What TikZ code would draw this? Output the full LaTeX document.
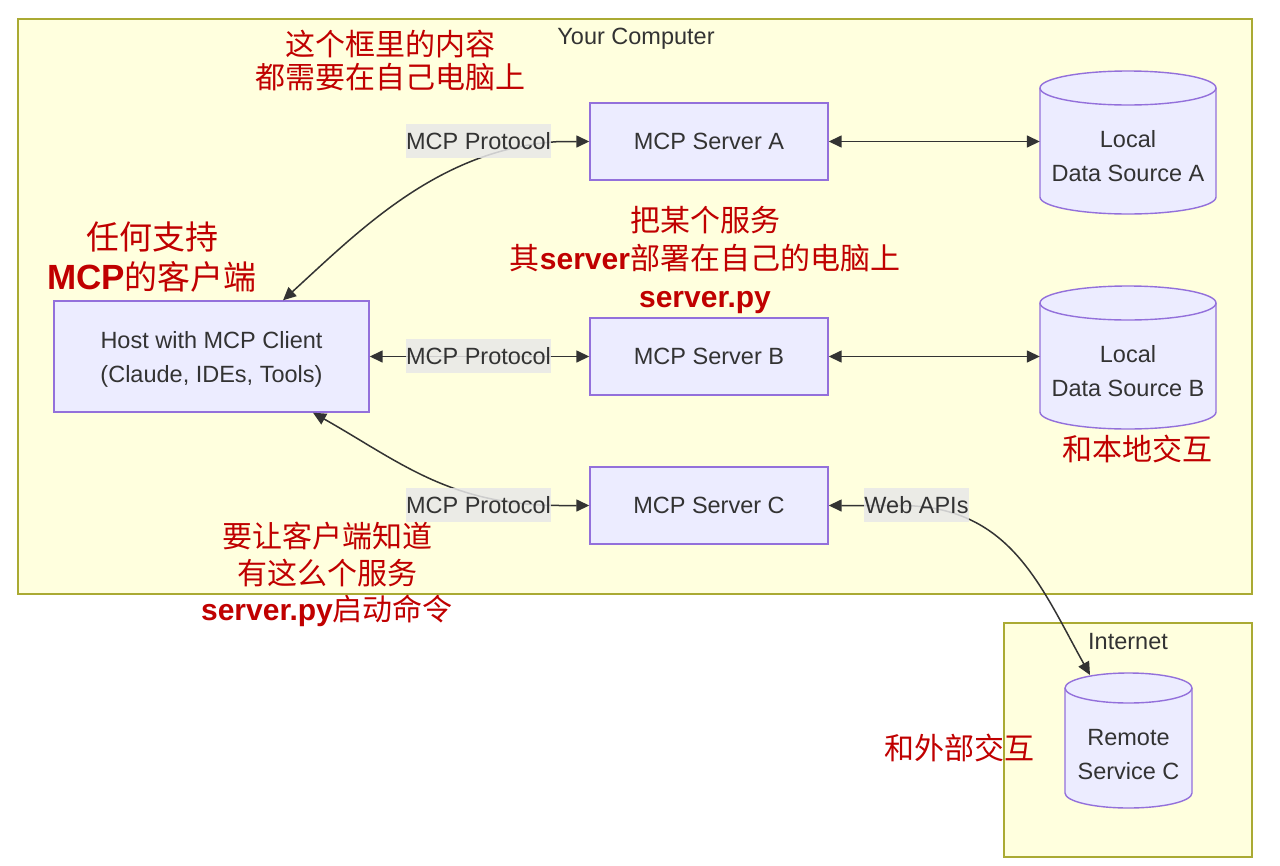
\documentclass[tikz,border=0pt]{standalone}
\usepackage{fontspec}
\setmainfont{Liberation Sans}
\newfontfamily\cjk{Noto Sans CJK SC}
\newfontfamily\latb{Liberation Sans}
\usetikzlibrary{arrows.meta}
\definecolor{clfill}{HTML}{FFFFDE}
\definecolor{clline}{HTML}{AAAA33}
\definecolor{ndfill}{HTML}{ECECFF}
\definecolor{ndline}{HTML}{9370DB}
\definecolor{txt}{HTML}{333333}
\definecolor{lblbg}{HTML}{E8E8E8}
\definecolor{anno}{HTML}{C00000}
\newcommand\drawcyl[5]{% cx, top centre y, bottom centre y, rx, ry
  \filldraw[fill=ndfill,draw=ndline,line width=1.4pt]
    (#1-#4,#2) -- (#1-#4,#3) arc[start angle=180,end angle=360,x radius=#4pt,y radius=#5pt]
    -- (#1+#4,#2) arc[start angle=0,end angle=180,x radius=#4pt,y radius=#5pt] -- cycle;
  \draw[draw=ndline,line width=1.4pt] (#1-#4,#2) arc[start angle=180,end angle=360,x radius=#4pt,y radius=#5pt];
}
\begin{document}
\begin{tikzpicture}[x=1pt,y=-1pt,
  every node/.style={text=txt},
  mainfont/.style={font=\fontsize{23.5}{34}\selectfont},
  box/.style={draw=ndline,fill=ndfill,line width=1.4pt,rectangle,mainfont,align=center},
  hole/.style={rectangle,inner sep=0pt},
  edge/.style={draw=txt,line width=1.5pt,{Triangle[length=13pt,width=12pt]}-{Triangle[length=13pt,width=12pt]}},
  lbl/.style={fill=lblbg,fill opacity=0.85,text opacity=1,inner xsep=0pt,minimum height=34pt,mainfont},
  cjkanno/.style={text=anno,align=center,font=\cjk\fontsize{30}{#1}\selectfont},
  cjkanno/.default=36]
\fill[white] (0,0) rectangle (1280,865);
\useasboundingbox (0,0) rectangle (1280,865);
% clusters
\draw[fill=clfill,draw=clline,line width=1.5pt] (18,19) rectangle (1252,594);
\node[mainfont] (ycl) at (636,39) {Your Computer};
\draw[fill=clfill,draw=clline,line width=1.5pt] (1004,623) rectangle (1252,857);
\node[mainfont] (icl) at (1128,641.5) {Internet};
% nodes
\node[box,minimum width=315pt,minimum height=111pt] (host) at (211.5,356.5) {};
\node[mainfont,align=center] (hostt) at (211.5,359.5) {Host with MCP Client\\(Claude, IDEs, Tools)};
\node[box,minimum width=238pt,minimum height=77pt] (srvA) at (709,141.5) {MCP Server A};
\node[box,minimum width=238pt,minimum height=77pt] (srvB) at (709,356.5) {MCP Server B};
\node[box,minimum width=238pt,minimum height=77pt] (srvC) at (709,505.5) {MCP Server C};
% cylinders
\drawcyl{1128}{88}{197}{88}{17}
\node[hole,minimum width=176pt,minimum height=143pt] (dsA) at (1128,141.5) {};
\node[mainfont,align=center] (dsAt) at (1128,156) {Local\\Data Source A};
\drawcyl{1128}{303}{412}{88}{17}
\node[hole,minimum width=176pt,minimum height=143pt] (dsB) at (1128,356.5) {};
\node[mainfont,align=center] (dsBt) at (1128,371) {Local\\Data Source B};
\drawcyl{1128.5}{688}{793}{63.5}{15}
\node[hole,minimum width=127pt,minimum height=135pt] (rem) at (1128.5,740.5) {};
\node[mainfont,align=center] (remt) at (1128.5,755) {Remote\\Service C};
\coordinate (remtop) at (1090,675);
% edges
\draw[edge] ([xshift=71.5pt]host.north) .. controls (360,230) and (440,148) .. (560,141.5) -- (srvA.west);
\draw[edge] (host.east) -- (srvB.west);
\draw[edge] ([xshift=101.5pt]host.south) .. controls (400,462) and (450,505.5) .. (560,505.5) -- (srvC.west);
\draw[edge] (srvA.east) -- (dsA.west);
\draw[edge] (srvB.east) -- (dsB.west);
\draw[edge] (srvC.east) -- (900,505.5) .. controls (1010,505.5) and (1040,585) .. (remtop);
% edge labels
\node[lbl] (lA) at (478.5,141) {MCP Protocol};
\node[lbl] (lB) at (478.5,356) {MCP Protocol};
\node[lbl] (lC) at (478.5,505) {MCP Protocol};
\node[lbl] (lW) at (916.5,505) {Web APIs};
% annotations
\node[cjkanno=33] (a1) at (390,60.5) {这个框里的内容\\都需要在自己电脑上};
\node[text=anno,align=center,font=\cjk\fontsize{33}{40}\selectfont] (a2) at (152,257) {任何支持\\{\latb\bfseries\fontsize{35}{40}\selectfont MCP}的客户端};
\node[cjkanno=38] (a3) at (705,260) {把某个服务\\其{\latb\bfseries server}部署在自己的电脑上\\{\latb\bfseries server.py}};
\node[cjkanno] (a4) at (1137,449) {和本地交互};
\node[cjkanno=36.5] (a5) at (327,574.5) {要让客户端知道\\有这么个服务\\{\latb\bfseries server.py}启动命令};
\node[cjkanno] (a6) at (959,748) {和外部交互};
\end{tikzpicture}
\end{document}
